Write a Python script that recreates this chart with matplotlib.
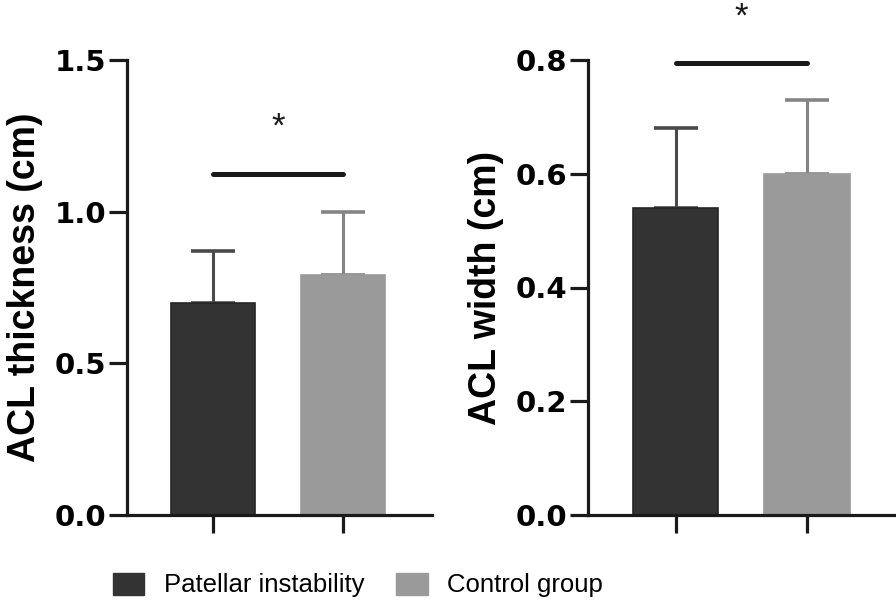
import matplotlib
matplotlib.use("Agg")
import matplotlib.pyplot as plt
from matplotlib.patches import Patch

# Data
groups = ["Patellar instability", "Control group"]
colors = ["#333333", "#9a9a9a"]
err_colors = ["#4a4a4a", "#858585"]

thickness_mean = [0.70, 0.79]
thickness_sd = [0.17, 0.21]
width_mean = [0.54, 0.60]
width_sd = [0.14, 0.13]

thick_ticks = [0.0, 0.5, 1.0, 1.5]
width_ticks = [0.0, 0.2, 0.4, 0.6, 0.8]
sig_thick = 1.124
sig_width = 0.795
star_thick = 1.28
star_width = 0.875

W, H = 896, 608
fig = plt.figure(figsize=(W / 100, H / 100), dpi=100)

tick_font = dict(family=["DejaVu Sans"], weight="bold", size=21)
label_font = dict(family=["Liberation Sans", "DejaVu Sans"], weight="bold", size=27)

def panel(rect, means, sds, ylim, ticks, ylabel, sig_y, star_y, labelpad):
    ax = fig.add_axes(rect)
    x = [0, 1]
    for i in range(2):
        ax.bar(x[i], means[i], width=0.65, color=colors[i], edgecolor=colors[i] if i else "#262626",
               linewidth=1.2, zorder=2)
        ax.errorbar(x[i], means[i], yerr=[[0], [sds[i]]], fmt="none", ecolor=err_colors[i],
                    elinewidth=2.2, capsize=16, capthick=2.6, zorder=1)
    ax.plot([x[0], x[1]], [sig_y, sig_y], color="#1a1a1a", lw=3.6, solid_capstyle="round",
            clip_on=False)
    ax.text(0.5, star_y, "*", ha="center", va="center", fontsize=25,
            family=["Liberation Sans", "DejaVu Sans"], color="#1a1a1a", clip_on=False)
    ax.set_xlim(-0.665, 1.69)
    ax.set_ylim(*ylim)
    ax.set_yticks(ticks)
    ax.set_yticklabels([f"{t:.1f}" for t in ticks], fontdict=tick_font)
    ax.set_xticks(x)
    ax.set_xticklabels([])
    for s in ["top", "right"]:
        ax.spines[s].set_visible(False)
    for s in ["left", "bottom"]:
        ax.spines[s].set_linewidth(2.3)
        ax.spines[s].set_color("#1a1a1a")
    ax.tick_params(axis="both", length=13, width=2.3, color="#1a1a1a", pad=2)
    ax.set_ylabel(ylabel, fontdict=label_font, labelpad=labelpad)
    return ax

axl = panel([127 / W, 1 - 515 / H, 305 / W, 455 / H], thickness_mean, thickness_sd,
            (0, 1.5), thick_ticks, "ACL thickness (cm)", sig_thick, star_thick, 8)
axr = panel([588 / W, 1 - 515 / H, 310 / W, 455 / H], width_mean, width_sd,
            (0, 0.8), width_ticks, "ACL width (cm)", sig_width, star_width, 8)

handles = [Patch(facecolor=colors[i], edgecolor=colors[i]) for i in range(2)]
leg = fig.legend(handles, groups, loc="center left", bbox_to_anchor=(113 / W, 1 - 585 / H),
                 ncol=2, frameon=False, borderpad=0, borderaxespad=0,
                 handlelength=1.22, handleheight=0.95, handletextpad=0.75, columnspacing=1.25,
                 prop=dict(family=["Liberation Sans", "DejaVu Sans"], size=18.5))

fig.savefig("out.png", dpi=100)
